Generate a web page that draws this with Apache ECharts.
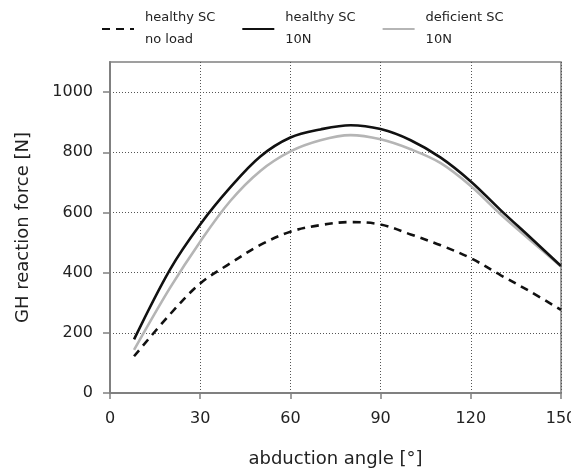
<!DOCTYPE html>
<html>
<head>
<meta charset="utf-8">
<script src="https://cdn.jsdelivr.net/npm/echarts@6/dist/echarts.min.js"></script>
<style>html,body{margin:0;padding:0;background:#fff}#c{width:571px;height:469px}</style>
</head>
<body>
<div id="c"></div>
<script>
var angles = [8, 20, 30, 40, 50, 60, 70, 80, 90, 100, 110, 120, 130, 140, 150];
var healthyNoLoad = [122, 262, 364, 431, 492, 536, 558, 568, 560, 527, 491, 448, 391, 336, 276];
var healthy10N = [178, 411, 560, 683, 786, 849, 876, 890, 877, 840, 782, 703, 607, 515, 422];
var deficient10N = [143, 350, 503, 638, 738, 803, 840, 857, 843, 810, 764, 688, 593, 506, 420];
var seriesNames = ['healthy SC\nno load', 'healthy SC\n10N', 'deficient SC\n10N'];
var xTicks = [0, 30, 60, 90, 120, 150];
var yTicks = [0, 200, 400, 600, 800, 1000];

function pairs(ys) { return angles.map(function (a, i) { return [a, ys[i]]; }); }

var FONT = 'DejaVu Sans, Liberation Sans, Arial, sans-serif';
var chart = echarts.init(document.getElementById('c'));
var axisCol = '#808080';
chart.setOption({
  animation: false,
  backgroundColor: '#fff',
  textStyle: { fontFamily: FONT },
  legend: {
    top: 2, left: 96,
    itemWidth: 32, itemHeight: 14, itemGap: 26,
    data: seriesNames,
    itemStyle: { opacity: 0 },
    textStyle: { fontSize: 13, color: '#222', lineHeight: 22, padding: [0, 0, 0, 6], fontFamily: FONT }
  },
  grid: { left: 110, right: 10, top: 62, bottom: 76, show: true, borderColor: axisCol, borderWidth: 1.5, outerBoundsMode: 'none', containLabel: false },
  xAxis: {
    type: 'value', min: 0, max: 150, interval: 30,
    name: 'abduction angle [°]', nameLocation: 'middle', nameGap: 57,
    nameTextStyle: { fontSize: 18, color: '#222', fontFamily: FONT },
    axisLine: { show: true, lineStyle: { color: axisCol, width: 2 } },
    axisTick: { show: true, length: 6, lineStyle: { color: axisCol, width: 1.5 }, customValues: xTicks },
    axisLabel: { fontSize: 16, color: '#222', margin: 18, customValues: xTicks, fontFamily: FONT },
    splitLine: { show: true, lineStyle: { color: '#555', type: [1, 2], width: 1 } }
  },
  yAxis: {
    type: 'value', min: 0, max: 1100, interval: 100,
    name: 'GH reaction force [N]', nameLocation: 'middle', nameGap: 78, nameRotate: 90,
    nameTextStyle: { fontSize: 18, color: '#222', fontFamily: FONT },
    axisLine: { show: true, lineStyle: { color: axisCol, width: 2 } },
    axisTick: { show: true, length: 7, lineStyle: { color: axisCol, width: 1.5 }, customValues: yTicks },
    axisLabel: { fontSize: 16, color: '#222', margin: 17, customValues: yTicks, fontFamily: FONT, formatter: function (v) { return String(v); } },
    splitLine: { show: true, lineStyle: { color: '#555', type: [1, 2], width: 1 } }
  },
  series: [
    { name: seriesNames[0], type: 'line', data: pairs(healthyNoLoad), symbol: 'none', smooth: 0.35, z: 3,
      lineStyle: { color: '#111', width: 2.6, type: [8, 6] }, itemStyle: { color: '#111' } },
    { name: seriesNames[1], type: 'line', data: pairs(healthy10N), symbol: 'none', smooth: 0.35, z: 4,
      lineStyle: { color: '#111', width: 2.6 }, itemStyle: { color: '#111' } },
    { name: seriesNames[2], type: 'line', data: pairs(deficient10N), symbol: 'none', smooth: 0.35, z: 2,
      lineStyle: { color: '#b5b5b5', width: 2.6 }, itemStyle: { color: '#b5b5b5' } }
  ]
});
</script>
</body>
</html>
